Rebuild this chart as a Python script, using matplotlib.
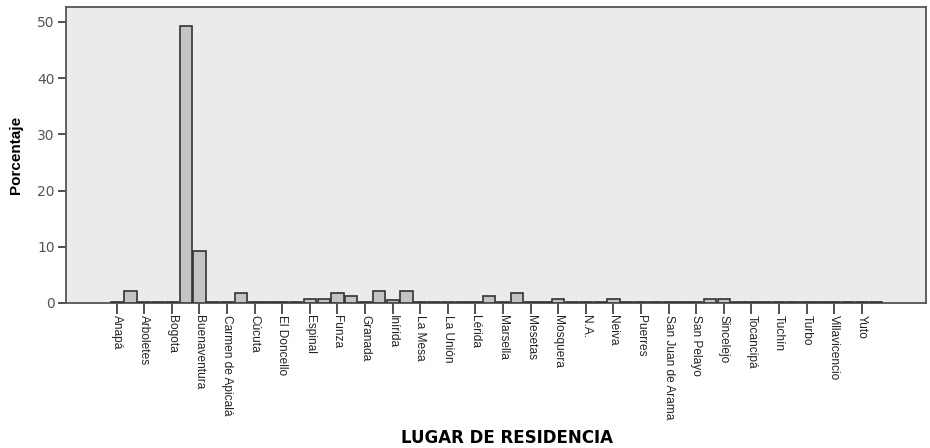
import matplotlib
matplotlib.use("Agg")
import matplotlib.pyplot as plt
import numpy as np

# categories in the original order; only every other one gets a visible label
lugares = [
    "Anapá", "Apartadó", "Arboletes", "Barranquilla", "Bogota", "Bogotá",
    "Buenaventura", "Cali", "Carmen de Apicalá", "Chía", "Cúcuta", "Duitama",
    "El Doncello", "Envigado", "Espinal", "Florencia", "Funza", "Girardot",
    "Granada", "Ibagué", "Inírida", "La Dorada", "La Mesa", "La Plata",
    "La Unión", "Leticia", "Lérida", "Madrid", "Marsella", "Medellín",
    "Mesetas", "Montería", "Mosquera", "Mutatá", "N.A.", "Neira",
    "Neiva", "Pasto", "Puerres", "San Andrés", "San Juan de Arama", "San Martín",
    "San Pelayo", "Santa Marta", "Sincelejo", "Soacha", "Tocancipá", "Tolú",
    "Tuchín", "Tunja", "Turbo", "Valledupar", "Villavicencio", "Yopal",
    "Yuto", "Zipaquirá",
]
porcentaje = [
    0.25, 2.2, 0.25, 0.25, 0.25, 49.3,
    9.3, 0.25, 0.25, 1.8, 0.25, 0.25,
    0.25, 0.25, 0.75, 0.75, 1.8, 1.3,
    0.25, 2.2, 0.5, 2.2, 0.25, 0.25,
    0.25, 0.25, 0.25, 1.3, 0.25, 1.8,
    0.25, 0.25, 0.75, 0.25, 0.25, 0.25,
    0.75, 0.25, 0.25, 0.25, 0.25, 0.25,
    0.25, 0.75, 0.75, 0.25, 0.25, 0.25,
    0.25, 0.25, 0.25, 0.25, 0.25, 0.25,
    0.25, 0.25,
]
y_ticks = [0, 10, 20, 30, 40, 50]

fig = plt.figure(figsize=(9.3, 4.48), dpi=100)
ax = fig.add_axes([0.071, 0.3237, 0.9247, 0.6603])
ax.set_facecolor("#ebebeb")

x = np.arange(len(lugares))
ax.bar(x, porcentaje, width=0.88, color="#c4c4c4", edgecolor="#333333",
       linewidth=1.2, zorder=3)

ax.set_xlim(-3.67, 58.65)
ax.set_ylim(0, 52.6)

shown = x[::2]
ax.set_xticks(shown)
ax.set_xticklabels([lugares[i] for i in shown], rotation=-90, ha="center",
                   va="top", fontsize=8.6, family="Liberation Sans",
                   color="#222222")
ax.tick_params(axis="x", length=8, width=1.2, color="#333333", pad=1)

ax.set_yticks(y_ticks)
ax.set_yticklabels([str(v) for v in y_ticks], fontsize=10, color="#555555")
ax.tick_params(axis="y", length=6, width=1.2, color="#333333", pad=2)

for side in ["left", "right", "top", "bottom"]:
    ax.spines[side].set_color("#555555")
    ax.spines[side].set_linewidth(1.3)

ax.set_ylabel("Porcentaje", fontsize=11, fontweight="bold",
              family="Liberation Sans", labelpad=10)
fig.text(0.545, 0.022, "LUGAR DE RESIDENCIA", ha="center", va="center",
         fontsize=12, fontweight="bold", family="DejaVu Sans")

fig.savefig("out.png", dpi=100)
